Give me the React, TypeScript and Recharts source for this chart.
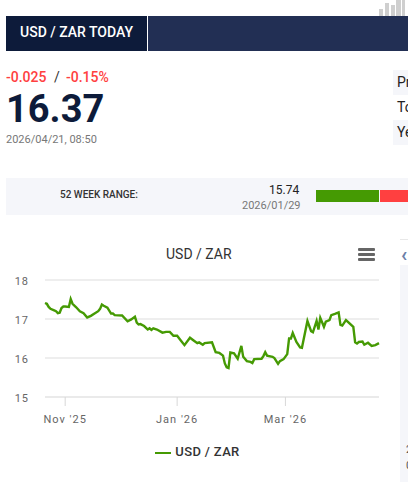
import React from 'react'
import { LineChart, Line, XAxis, YAxis, CartesianGrid, Legend } from 'recharts'

// days since 2025/10/21
const days = [
  0, 1, 2, 3, 5, 6, 7, 8, 9, 10, 11, 13, 14, 15, 17, 19, 21, 23, 25, 27, 29, 30, 31, 32, 34, 36, 37, 38, 42, 45, 47, 49,
  50, 51, 52, 54, 56, 57, 58, 59, 61, 64, 66, 68, 70, 72, 74, 76, 79, 81, 83, 84, 86, 87, 91, 93, 95, 97, 98, 99, 100,
  101, 103, 105, 107, 108, 110, 112, 113, 114, 118, 119, 120, 121, 124, 125, 127, 128, 130, 132, 133, 134, 135, 137,
  139, 140, 143, 145, 146, 148, 149, 150, 152, 153, 155, 156, 158, 160, 161, 162, 164, 168, 169, 170, 171, 173, 174,
  176, 178, 180, 182,
]
const prices = [
  17.41, 17.39, 17.31, 17.26, 17.22, 17.2, 17.15, 17.16, 17.28, 17.32, 17.32, 17.31, 17.51, 17.39, 17.3, 17.2, 17.15,
  17.04, 17.08, 17.14, 17.2, 17.26, 17.37, 17.34, 17.29, 17.14, 17.14, 17.1, 17.09, 16.94, 16.99, 17.06, 16.91, 16.86,
  16.87, 16.82, 16.73, 16.76, 16.72, 16.76, 16.73, 16.65, 16.67, 16.67, 16.57, 16.57, 16.45, 16.33, 16.52, 16.45, 16.38,
  16.4, 16.34, 16.38, 16.4, 16.15, 16.13, 16.06, 15.86, 15.76, 15.74, 16.14, 16.12, 15.98, 16.31, 16.03, 15.92, 15.9,
  15.87, 15.97, 15.98, 16.05, 16.15, 16.06, 16.03, 16.0, 15.85, 15.92, 15.97, 16.1, 16.5, 16.5, 16.64, 16.41, 16.27,
  16.26, 16.95, 16.69, 16.66, 16.95, 16.73, 17.03, 16.8, 16.93, 16.97, 17.1, 17.13, 17.17, 16.85, 16.83, 16.97, 16.8,
  16.4, 16.37, 16.41, 16.42, 16.34, 16.39, 16.31, 16.33, 16.38,
]
const xTicks = [11, 72, 131]
const xLabels = ["Nov '25", "Jan '26", "Mar '26"]
const yTicks = [15, 16, 17, 18]
const logoBars = [
  [379, 9, 4],
  [385, 3, 4],
  [391, 5, 4],
  [396, 0, 5],
  [402, 0, 3],
]

const data = days.map((day, i) => ({ day, price: prices[i] }))

const FONT = 'Roboto, sans-serif'
const GREEN = '#459a03'
const RED = '#ff4040'
const NAVY = '#0d1b3a'

function box(left: number, top: number, width: number, height: number, background: string): React.CSSProperties {
  return { position: 'absolute', left, top, width, height, background }
}

function label(left: number, top: number, fontSize: number, color: string, extra?: React.CSSProperties): React.CSSProperties {
  return { position: 'absolute', left, top, fontSize, color, lineHeight: '1', whiteSpace: 'nowrap', ...extra }
}

export default function App() {
  return (
    <div
      style={{
        position: 'absolute',
        left: 0,
        top: 0,
        width: 408,
        height: 482,
        overflow: 'hidden',
        background: '#fff',
        fontFamily: FONT,
      }}
    >
      {logoBars.map(([x, y, w]) => (
        <div key={x} style={box(x, y, w, 16 - y, '#cfcfcf')} />
      ))}
      <div style={box(6, 16, 141, 35, NAVY)} />
      <div style={box(148, 16, 260, 35, '#222f54')} />
      <div style={label(20, 25, 14, '#fff', { fontWeight: 500 })}>USD / ZAR TODAY</div>

      <div style={label(6, 70, 14, RED, { fontWeight: 500 })}>-0.025</div>
      <div style={label(54, 70, 14, '#333')}>/</div>
      <div style={label(66, 70, 14, RED, { fontWeight: 500 })}>-0.15%</div>
      <div style={label(6, 90, 38, NAVY, { fontWeight: 700 })}>16.37</div>
      <div style={label(6, 134, 11, '#777')}>2026/04/21, 08:50</div>

      <div style={box(393, 70, 15, 25, '#f5f6fa')} />
      <div style={box(393, 120, 15, 25, '#f5f6fa')} />
      <div style={label(397, 75, 14, '#222')}>Pr</div>
      <div style={label(397, 100, 14, '#222')}>To</div>
      <div style={label(397, 125, 14, '#222')}>Ye</div>

      <div style={box(6, 178, 402, 37, '#f5f6fa')} />
      <div style={label(60, 190, 10, '#333', { fontWeight: 500 })}>52 WEEK RANGE:</div>
      <div style={label(269, 184, 12, '#222')}>15.74</div>
      <div style={label(242, 200, 11, '#777')}>2026/01/29</div>
      <div style={box(316, 190, 63, 12, GREEN)} />
      <div style={box(380, 190, 28, 12, RED)} />

      <div style={label(166, 247, 14, '#333')}>USD / ZAR</div>
      {[248, 253, 258].map((y) => (
        <div key={y} style={{ ...box(358, y, 17, 3, '#666'), borderRadius: 1 }} />
      ))}

      <div style={box(400, 265, 8, 217, '#f5f6fa')} />
      <div style={box(400, 239, 8, 1, '#e8e8e8')} />
      <div style={label(401, 244, 20, '#6d7fa8', { fontWeight: 700 })}>‹</div>
      <div style={label(406, 444, 11, '#555')}>2</div>
      <div style={label(406, 460, 11, '#555')}>0</div>

      <div style={{ position: 'absolute', left: 0, top: 240 }}>
        <LineChart width={408} height={240} data={data} margin={{ top: 40, right: 29, bottom: 14, left: 0 }}>
          <CartesianGrid vertical={false} stroke="#e8e8e8" strokeWidth={1.5} />
          <XAxis
            dataKey="day"
            type="number"
            domain={[0, 182]}
            ticks={xTicks}
            tickFormatter={(d: number) => xLabels[xTicks.indexOf(d)]}
            height={47}
            axisLine={{ stroke: '#e8e8e8', strokeWidth: 1.5 }}
            tickLine={{ stroke: '#d8d8d8' }}
            tickSize={9}
            tickMargin={9}
            tick={{ fontSize: 11, fill: '#666', fontFamily: FONT, letterSpacing: 1 }}
          />
          <YAxis
            domain={[15, 18]}
            ticks={yTicks}
            width={45}
            axisLine={false}
            tickLine={false}
            tickMargin={10}
            dy={1}
            tick={{ fontSize: 11, fill: '#666', fontFamily: FONT, letterSpacing: 1 }}
          />
          <Legend
            verticalAlign="bottom"
            height={22}
            iconType="plainline"
            iconSize={16}
            wrapperStyle={{ left: 13, fontFamily: FONT, fontSize: 13, fontWeight: 500, letterSpacing: 0.35 }}
            formatter={(value: string) => <span style={{ color: '#333' }}>{value}</span>}
          />
          <Line
            type="linear"
            dataKey="price"
            name="USD / ZAR"
            stroke={GREEN}
            strokeWidth={2.4}
            dot={false}
            isAnimationActive={false}
          />
        </LineChart>
      </div>
    </div>
  )
}
